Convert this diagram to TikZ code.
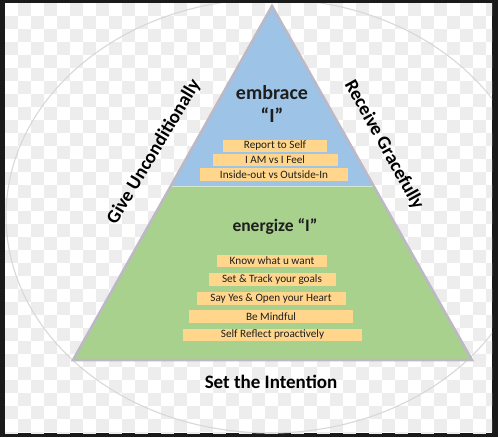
\documentclass[tikz,border=0pt]{standalone}
\usepackage{fontspec}
\setmainfont{Carlito}
\definecolor{framedark}{HTML}{1A1A1A}
\definecolor{checker}{HTML}{EDEDED}
\definecolor{ringgray}{HTML}{D8D8D8}
\definecolor{pyrblue}{HTML}{9DC3E6}
\definecolor{pyrgreen}{HTML}{A9D18E}
\definecolor{pyredge}{HTML}{BDB8C6}
\definecolor{barfill}{HTML}{FFD68C}
\definecolor{txtdark}{HTML}{1E1E1E}
\tikzset{
  bar/.style={fill=barfill, draw=none, inner sep=0pt, minimum height=12.5pt,
    font=\fontsize{11.2}{12}\selectfont, text=txtdark},
  headtxt/.style={font=\bfseries\fontsize{20}{22}\selectfont, text=txtdark, inner sep=0pt, align=center},
  sidetxt/.style={font=\bfseries\fontsize{19}{21}\selectfont, text=black, inner sep=0pt},
}
\begin{document}
\begin{tikzpicture}[x=1pt,y=-1pt]
\useasboundingbox (0,0) rectangle (498,437);
\fill[framedark] (0,0) rectangle (498,437);
\fill[white] (5,3) rectangle (492,433);
\begin{scope}
  \clip (5,3) rectangle (492,433);
  \foreach \i in {0,...,37}{
    \foreach \j in {0,...,33}{
      \pgfmathtruncatemacro\p{mod(\i+\j,2)}
      \ifnum\p=1 \fill[checker] ({5+13*\i},{3+13*\j}) rectangle ++(13,13); \fi
    }
  }
  \draw[ringgray, line width=1.1pt] (270,216) ellipse [x radius=264pt, y radius=217pt];
\end{scope}
% pyramid
\coordinate (apex) at (272,6);
\coordinate (bl) at (73,360);
\coordinate (br) at (472,360);
\coordinate (ml) at (170.5,186);
\coordinate (mr) at (374,186);
\fill[pyrgreen] (ml) -- (mr) -- (br) -- (bl) -- cycle;
\fill[pyrblue] (apex) -- (mr) -- (ml) -- cycle;
\draw[white, opacity=0.5, line width=1pt] (ml) -- (mr);
\draw[pyredge, line width=2.5pt, line join=miter] (apex) -- (br) -- (bl) -- cycle;
% headings
\node[headtxt] (emb) at (272,93) {embrace};
\node[headtxt] (embI) at (272,115) {“I”};
\node[headtxt, font=\bfseries\fontsize{17.5}{21}\selectfont] (ene) at (275,227) {energize “I”};
% upper bars
\node[bar, minimum width=104pt] (r1) at (275,146) {Report to Self};
\node[bar, minimum width=125pt] (r2) at (275,160) {I AM vs I Feel};
\node[bar, minimum width=148pt] (r3) at (274,174.5) {Inside-out vs Outside-In};
% lower bars
\node[bar, minimum width=110pt] (g1) at (272,261) {Know what u want};
\node[bar, minimum width=127pt] (g2) at (272,279.5) {Set \& Track your goals};
\node[bar, minimum width=149pt] (g3) at (271,298.5) {Say Yes \& Open your Heart};
\node[bar, minimum width=164pt] (g4) at (271,316.5) {Be Mindful};
\node[bar, minimum width=179pt] (g5) at (272.5,335) {Self Reflect proactively};
% side labels
\node[sidetxt, rotate=59] (give) at (154,152) {Give Unconditionally};
\node[sidetxt, rotate=-61] (recv) at (384,145) {Receive Gracefully};
\node[sidetxt, font=\bfseries\fontsize{19}{22}\selectfont] (intent) at (271,382) {Set the Intention};
\end{tikzpicture}
\end{document}
